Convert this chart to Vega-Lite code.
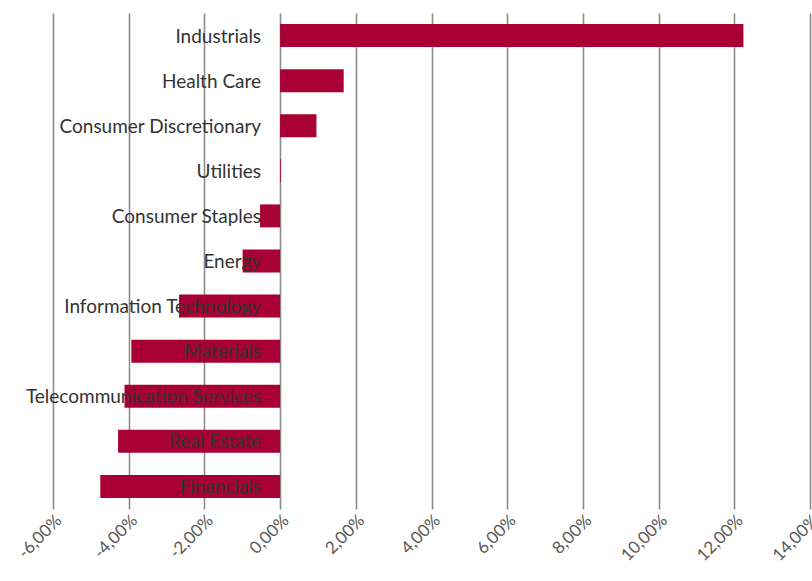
{
  "$schema": "https://vega.github.io/schema/vega-lite/v6.json",
  "autosize": {"type": "none"},
  "width": 757,
  "height": 496,
  "padding": {"left": 53, "top": 13, "right": 2, "bottom": 72},
  "background": "white",
  "data": {
    "values": [
      {"sector": "Industrials", "value": 0.1224},
      {"sector": "Health Care", "value": 0.0168},
      {"sector": "Consumer Discretionary", "value": 0.0096},
      {"sector": "Utilities", "value": 0.0002},
      {"sector": "Consumer Staples", "value": -0.0053},
      {"sector": "Energy", "value": -0.0099},
      {"sector": "Information Technology", "value": -0.0267},
      {"sector": "Materials", "value": -0.0393},
      {"sector": "Telecommunication Services", "value": -0.0411},
      {"sector": "Real Estate", "value": -0.0428},
      {"sector": "Financials", "value": -0.0475}
    ]
  },
  "encoding": {
    "y": {
      "field": "sector",
      "type": "nominal",
      "sort": null,
      "axis": null,
      "scale": {"paddingInner": 0.49, "paddingOuter": 0.245}
    }
  },
  "layer": [
    {
      "mark": {"type": "bar", "color": "#A80034"},
      "encoding": {
        "x": {
          "field": "value",
          "type": "quantitative",
          "scale": {"domain": [-0.06, 0.14], "nice": false, "zero": false},
          "axis": {
            "values": [-0.06, -0.04, -0.02, 0, 0.02, 0.04, 0.06, 0.08, 0.1, 0.12, 0.14],
            "labelExpr": "replace(replace(format(datum.value, '.2%'), '.', ','), '\u2212', '-')",
            "labelAngle": -45,
            "labelFont": "Lato",
            "labelFontSize": 17,
            "labelColor": "#595959",
            "labelPadding": 3,
            "ticks": false,
            "domain": false,
            "grid": true,
            "gridColor": "#8c8c8c",
            "gridWidth": 1.6,
            "title": null
          }
        }
      }
    },
    {
      "mark": {"type": "text", "align": "right", "baseline": "middle", "dx": -19, "dy": 1, "font": "Lato", "fontSize": 19, "color": "#333333"},
      "encoding": {
        "x": {"datum": 0, "type": "quantitative"},
        "text": {"field": "sector"}
      }
    }
  ],
  "config": {"view": {"stroke": null}}
}
